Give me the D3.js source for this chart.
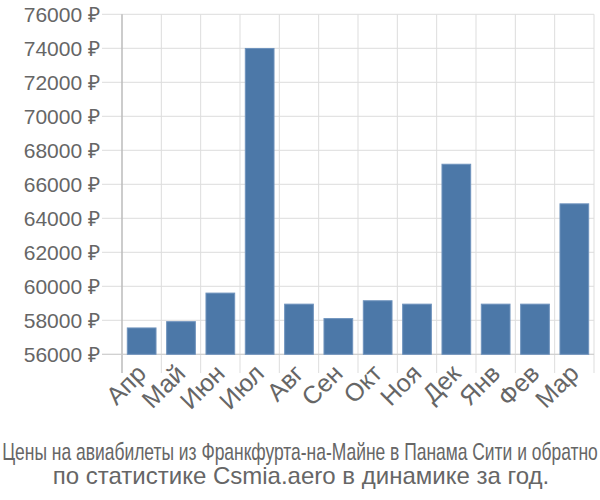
<!DOCTYPE html>
<html><head><meta charset="utf-8">
<script src="https://cdn.jsdelivr.net/npm/d3@7"></script>
<style>body{margin:0;background:#fff}svg{display:block}</style>
</head><body>
<svg id="c" width="600" height="500"></svg>
<script>
const months = ["Апр","Май","Июн","Июл","Авг","Сен","Окт","Ноя","Дек","Янв","Фев","Мар"];
const prices = [57550, 57920, 59600, 73990, 58950, 58100, 59150, 58950, 67180, 58950, 58950, 64850];
const yTicks = [56000,58000,60000,62000,64000,66000,68000,70000,72000,74000,76000];
const titleLines = ["Цены на авиабилеты из Франкфурта-на-Майне в Панама Сити и обратно","по статистике Csmia.aero в динамике за год."];

const svg = d3.select("#c");
const x = d3.scaleBand().domain(months).range([122, 594]).paddingInner(0.27).paddingOuter(0.135);
const y = d3.scaleLinear().domain([56000, 76000]).range([354.3, 14.3]);
const txt = "#666", grid = "#dddddd";

svg.append("g").selectAll("line").data(yTicks).join("line")
  .attr("x1", 102).attr("x2", 594).attr("y1", d=>y(d)).attr("y2", d=>y(d))
  .attr("stroke", grid).attr("stroke-width", 1);
const step = x.step();
const bounds = d3.range(months.length + 1).map(i => 122 + i * step);
svg.append("g").selectAll("line").data(bounds).join("line")
  .attr("x1", d=>d).attr("x2", d=>d).attr("y1", 14.3).attr("y2", 373)
  .attr("stroke", grid).attr("stroke-width", 1);
svg.append("line").attr("x1",122).attr("x2",122).attr("y1",14.3).attr("y2",373)
  .attr("stroke","#aaa").attr("stroke-width",1);
svg.append("line").attr("x1",102).attr("x2",594).attr("y1",y(56000)).attr("y2",y(56000))
  .attr("stroke","#ccc").attr("stroke-width",1);

svg.append("g").selectAll("rect").data(months).join("rect")
  .attr("x", d=>x(d)).attr("width", x.bandwidth())
  .attr("y", (d,i)=>y(prices[i])).attr("height", (d,i)=>y(56000)-y(prices[i]))
  .attr("fill", "#4c78a8").attr("stroke", "#6f93bd").attr("stroke-width", 1);

svg.append("g").selectAll("text").data(yTicks).join("text")
  .attr("x", 100).attr("y", d=>y(d)).attr("dy","0.36em")
  .attr("text-anchor","end").attr("fill",txt)
  .style("font-family","'Liberation Sans', Arial, sans-serif").style("font-size","21px")
  .text(d => d + " ₽");

svg.append("g").selectAll("text").data(months).join("text")
  .attr("transform", d => `translate(${x(d)+x.bandwidth()/2+6},${375}) rotate(-45)`)
  .attr("text-anchor","end").attr("fill",txt)
  .style("font-family","'Liberation Sans', Arial, sans-serif").style("font-size","25px")
  .text(d=>d);

const t1 = svg.append("text").attr("text-anchor","middle").attr("fill",txt)
  .style("font-family","'Liberation Sans', Arial, sans-serif").style("font-size","24px")
  .text(titleLines[0]);
const w1 = t1.node().getComputedTextLength();
t1.attr("transform", `translate(300,460) scale(${596 / w1},1)`);
svg.append("text").attr("x",301).attr("y",484).attr("text-anchor","middle").attr("fill",txt)
  .style("font-family","'Liberation Sans', Arial, sans-serif").style("font-size","24px")
  .text(titleLines[1]);
</script>
</body></html>
